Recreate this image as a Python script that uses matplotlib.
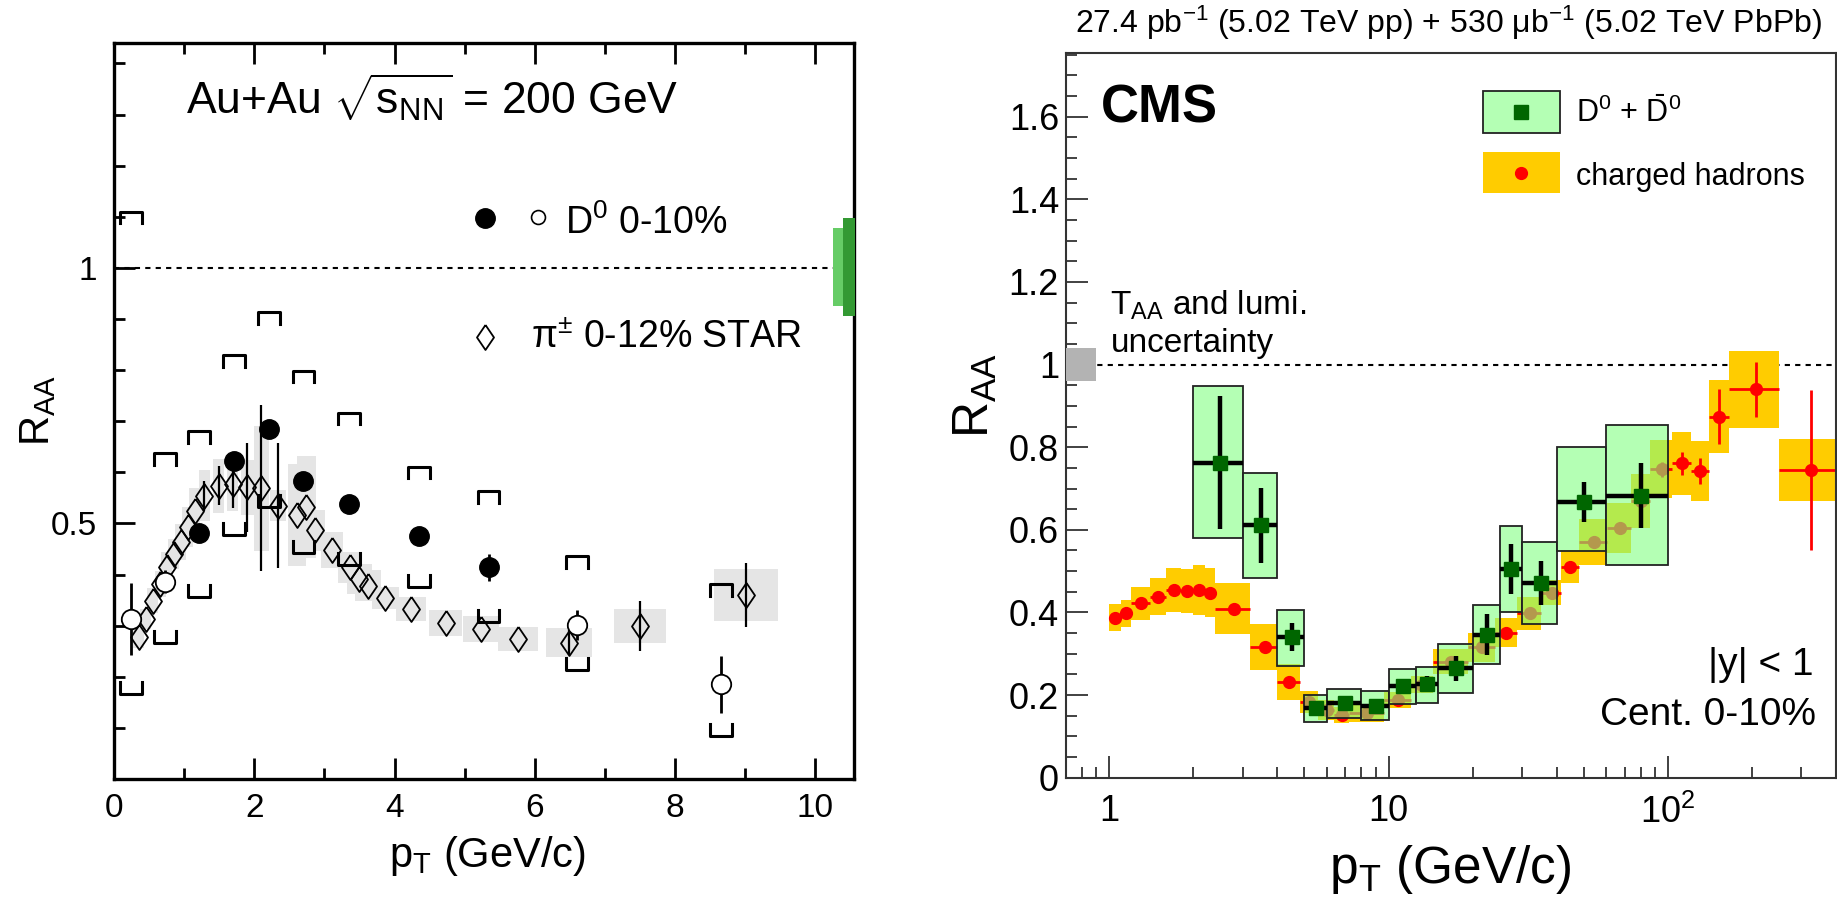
import matplotlib
matplotlib.use('Agg')
import matplotlib.pyplot as plt
import matplotlib.ticker as mticker
from matplotlib.patches import Rectangle
import numpy as np

plt.rcParams['font.family'] = 'Liberation Sans'
plt.rcParams['mathtext.fontset'] = 'custom'
plt.rcParams['mathtext.rm'] = 'Liberation Sans'
plt.rcParams['mathtext.it'] = 'Liberation Sans:italic'
plt.rcParams['mathtext.bf'] = 'Liberation Sans:bold'

# ---------------- left panel data (STAR, Au+Au 200 GeV) ----------------
# D0 0-10%, filled points
d0f_pt = [1.21, 1.71, 2.21, 2.70, 3.35, 4.35, 5.34]
d0f_raa = [0.481, 0.622, 0.684, 0.584, 0.538, 0.475, 0.414]
d0f_stat = [0.012, 0.012, 0.012, 0.012, 0.012, 0.012, 0.027]
d0f_syshi = [0.680, 0.830, 0.913, 0.799, 0.717, 0.611, 0.563]
d0f_syslo = [0.356, 0.478, 0.532, 0.442, 0.419, 0.376, 0.307]

# D0 0-10%, open points
d0o_pt = [0.24, 0.73, 6.60, 8.65]
d0o_raa = [0.313, 0.386, 0.301, 0.185]
d0o_stat = [0.070, 0.022, 0.029, 0.056]
d0o_syshi = [1.110, 0.637, 0.436, 0.382]
d0o_syslo = [0.166, 0.267, 0.213, 0.085]

# pi+- 0-12% STAR
pi_pt = [0.35, 0.45, 0.55, 0.66, 0.75, 0.85, 0.95, 1.05, 1.15, 1.29,
         1.49, 1.69, 1.90, 2.10, 2.34, 2.61, 2.74, 2.86, 3.11, 3.36,
         3.50, 3.62, 3.87, 4.23, 4.73, 5.23, 5.76, 6.49, 7.50, 9.01]
pi_raa = [0.277, 0.313, 0.349, 0.382, 0.414, 0.440, 0.464, 0.493, 0.525, 0.554,
          0.574, 0.577, 0.571, 0.569, 0.535, 0.517, 0.532, 0.487, 0.448, 0.414,
          0.391, 0.378, 0.354, 0.333, 0.305, 0.294, 0.274, 0.267, 0.300, 0.360]
pi_stat = [0.012, 0.012, 0.012, 0.012, 0.012, 0.012, 0.012, 0.012, 0.015, 0.030,
           0.038, 0.046, 0.087, 0.163, 0.122, 0.015, 0.015, 0.015, 0.015, 0.015,
           0.015, 0.015, 0.015, 0.015, 0.020, 0.020, 0.020, 0.025, 0.049, 0.062]
pi_sys = [0.020, 0.020, 0.025, 0.025, 0.030, 0.030, 0.035, 0.040, 0.045, 0.050,
          0.053, 0.053, 0.054, 0.122, 0.030, 0.100, 0.100, 0.040, 0.035, 0.030,
          0.030, 0.030, 0.021, 0.024, 0.026, 0.025, 0.024, 0.029, 0.033, 0.050]

# ---------------- right panel data (CMS, PbPb 5.02 TeV) ----------------
ch_edges = [1.0, 1.1, 1.2, 1.4, 1.6, 1.8, 2.0, 2.2, 2.4, 3.2, 4.0, 4.8, 5.6, 6.4,
            7.2, 9.6, 12.0, 14.4, 19.2, 24.0, 28.8, 35.2, 41.6, 48.0, 60.8, 73.6,
            86.4, 103.6, 120.8, 140.0, 165.0, 250.0, 400.0]
ch_raa = [0.387, 0.398, 0.422, 0.438, 0.454, 0.452, 0.454, 0.448, 0.409, 0.316,
          0.232, 0.184, 0.164, 0.152, 0.156, 0.188, 0.225, 0.281, 0.316, 0.351,
          0.398, 0.448, 0.511, 0.571, 0.604, 0.670, 0.747, 0.761, 0.743, 0.874,
          0.940, 0.745]
ch_stat = [0.008, 0.008, 0.008, 0.008, 0.008, 0.008, 0.008, 0.008, 0.008, 0.008,
           0.008, 0.008, 0.008, 0.008, 0.008, 0.008, 0.010, 0.010, 0.010, 0.010,
           0.012, 0.012, 0.012, 0.015, 0.015, 0.020, 0.018, 0.028, 0.032, 0.067,
           0.066, 0.194]
ch_sys = [0.033, 0.033, 0.040, 0.045, 0.054, 0.053, 0.060, 0.060, 0.062, 0.055,
          0.043, 0.027, 0.025, 0.020, 0.020, 0.020, 0.020, 0.030, 0.035, 0.035,
          0.040, 0.030, 0.040, 0.056, 0.060, 0.066, 0.070, 0.076, 0.072, 0.088,
          0.094, 0.076]

d0_edges = [2, 3, 4, 5, 6, 8, 10, 12.5, 15, 20, 25, 30, 40, 60, 100]
d0_raa = [0.763, 0.611, 0.340, 0.168, 0.180, 0.174, 0.222, 0.227, 0.265, 0.346,
          0.505, 0.471, 0.668, 0.683]
d0_stat = [0.160, 0.091, 0.034, 0.015, 0.015, 0.012, 0.015, 0.020, 0.030, 0.050,
           0.060, 0.054, 0.049, 0.079]
d0_syslo = [0.183, 0.127, 0.069, 0.034, 0.035, 0.034, 0.044, 0.045, 0.061, 0.071,
            0.103, 0.100, 0.120, 0.168]
d0_syshi = [0.184, 0.126, 0.066, 0.031, 0.035, 0.036, 0.040, 0.042, 0.059, 0.072,
            0.104, 0.100, 0.132, 0.171]

fig = plt.figure(figsize=(18.37, 9.07), dpi=100)

# hollow diamond like the STAR marker
diamond = [(0, 1), (0.68, 0), (0, -1), (-0.68, 0), (0, 1)]

# =============================== left panel ===============================
ax1 = fig.add_axes([114/1837, 1-779/907, 740/1837, 736/907])
ax1.set_xlim(0, 10.55)
ax1.set_ylim(0, 1.44)

for x, y, s in zip(pi_pt, pi_raa, pi_sys):
    hw = max(0.08, 0.05*x)
    ax1.add_patch(Rectangle((x-hw, y-s), 2*hw, 2*s, facecolor='#e5e5e5',
                            edgecolor='none', zorder=1))

ax1.axhline(1, color='k', ls=(0, (2.5, 2.5)), lw=1.5, zorder=2)

# only error bars that stick out of the marker are visible
big = [i for i in range(len(pi_pt)) if pi_stat[i] > 0.02]
ax1.errorbar([pi_pt[i] for i in big], [pi_raa[i] for i in big], yerr=[pi_stat[i] for i in big],
             fmt='none', ecolor='k', elinewidth=1.6, zorder=3)
ax1.plot(pi_pt, pi_raa, marker=diamond, ls='none', ms=18, mfc='none', mec='k', mew=1.3, zorder=4)

# systematic brackets for D0
bw = 0.155
leg = 0.023
for x, lo, hi in zip(d0f_pt + d0o_pt, d0f_syslo + d0o_syslo, d0f_syshi + d0o_syshi):
    ax1.plot([x-bw, x-bw, x+bw, x+bw], [hi-leg, hi, hi, hi-leg], 'k-', lw=2.2, zorder=5)
    ax1.plot([x-bw, x-bw, x+bw, x+bw], [lo+leg, lo, lo, lo+leg], 'k-', lw=2.2, zorder=5)

ax1.errorbar(d0o_pt, d0o_raa, yerr=d0o_stat, fmt='o', ms=14, mfc='white', mec='k',
             mew=1.3, ecolor='k', elinewidth=2, zorder=6)
ax1.errorbar(d0f_pt, d0f_raa, yerr=d0f_stat, fmt='o', ms=14, color='k',
             elinewidth=2, zorder=6)

# global uncertainty bands on the right edge
ax1.add_patch(Rectangle((10.25, 0.925), 0.15, 0.153, facecolor='#66cc66', edgecolor='none', zorder=3))
ax1.add_patch(Rectangle((10.40, 0.905), 0.16, 0.192, facecolor='#339933', edgecolor='none',
                        zorder=3, clip_on=False))

# legend and label
ax1.text(1.02, 1.30, r'Au+Au $\sqrt{\mathrm{s}_{\mathrm{NN}}}$ = 200 GeV', fontsize=32)
ax1.plot([5.29], [1.097], 'o', ms=14, color='k')
ax1.plot([6.04], [1.10], 'o', ms=10, mfc='white', mec='k', mew=1.2)
ax1.text(6.43, 1.088, r'D$^{0}$ 0-10%', fontsize=27, va='center')
ax1.plot([5.29], [0.865], marker=diamond, ms=18, mfc='none', mec='k', mew=1.3)
ax1.text(5.95, 0.863, r'π$^{\pm}$ 0-12% STAR', fontsize=27, va='center')

ax1.set_xticks([0, 2, 4, 6, 8, 10])
ax1.set_xticks([1, 3, 5, 7, 9], minor=True)
ax1.set_yticks([0.5, 1.0])
ax1.set_yticklabels(['0.5', '1'])
ax1.set_yticks([0.1, 0.2, 0.3, 0.4, 0.6, 0.7, 0.8, 0.9, 1.1, 1.2, 1.3, 1.4], minor=True)
ax1.tick_params(which='both', direction='in', top=True, right=False, width=2, labelsize=24)
ax1.tick_params(which='major', length=15)
ax1.tick_params(which='minor', length=8)
ax1.tick_params(axis='x', pad=10)
ax1.tick_params(axis='y', pad=12)
for sp in ax1.spines.values():
    sp.set_linewidth(2.4)

fig.text(38/1837, 1-410/907, r'R$_{\mathrm{AA}}$', fontsize=30, rotation=90, ha='center', va='center')
fig.text(487/1837, 1-867/907, r'p$_{\mathrm{T}}$ (GeV/c)', fontsize=30, ha='center', va='baseline')

# =============================== right panel ===============================
ax2 = fig.add_axes([1066/1837, 1-777.7/907, 770/1837, 725/907])
ax2.set_xscale('log')
ax2.set_xlim(0.7, 400)
ax2.set_ylim(0, 1.755)

ch_edges = np.array(ch_edges)
ch_lo = ch_edges[:-1]
ch_hi = ch_edges[1:]
ch_pt = (ch_lo + ch_hi) / 2
for lo, hi, y, s in zip(ch_lo, ch_hi, ch_raa, ch_sys):
    ax2.add_patch(Rectangle((lo, y-s), hi-lo, 2*s, facecolor='#ffcc00', edgecolor='none', zorder=1))
ax2.errorbar(ch_pt, ch_raa, yerr=ch_stat, xerr=[ch_pt-ch_lo, ch_hi-ch_pt], fmt='o', ms=8.5,
             color='red', elinewidth=2, zorder=2)

ax2.axhline(1, color='k', ls=(0, (2.5, 2.5)), lw=1.5, zorder=0)

d0_edges = np.array(d0_edges, dtype=float)
d0_lo = d0_edges[:-1]
d0_hi = d0_edges[1:]
d0_pt = (d0_lo + d0_hi) / 2
for lo, hi, y, sl, sh in zip(d0_lo, d0_hi, d0_raa, d0_syslo, d0_syshi):
    ax2.add_patch(Rectangle((lo, y-sl), hi-lo, sl+sh, facecolor=(0.51, 1.0, 0.51, 0.6),
                            edgecolor='#222222', lw=1.3, zorder=3))
ax2.errorbar(d0_pt, d0_raa, yerr=d0_stat, xerr=[d0_pt-d0_lo, d0_hi-d0_pt], fmt='s', ms=10,
             mfc='#006600', mec='#006600', ecolor='k', elinewidth=3.2, zorder=4)

# normalisation uncertainty box
ax2.add_patch(Rectangle((0.7, 0.961), 0.2, 0.078, facecolor='#b3b3b3', edgecolor='none', zorder=5))
ax2.text(1.01, 1.12, r'T$_{\mathrm{AA}}$ and lumi.', fontsize=24)
ax2.text(1.01, 1.031, 'uncertainty', fontsize=24)

ax2.text(0.045, 0.958, 'CMS', fontsize=38, fontweight='bold', transform=ax2.transAxes, va='top')

# legend drawn by hand
ax2.add_patch(Rectangle((0.541, 0.8888), 0.1006, 0.0588, transform=ax2.transAxes,
                        facecolor='#b4ffb4', edgecolor='#222222', lw=1.3, zorder=6))
ax2.plot([0.5914], [0.918], 's', ms=10, color='#006600', transform=ax2.transAxes, zorder=7)
ax2.text(0.6623, 0.9164, r'D$^{0}$ + $\bar{\mathrm{D}}^{0}$', fontsize=22, va='center',
         transform=ax2.transAxes)
ax2.add_patch(Rectangle((0.541, 0.8059), 0.1006, 0.0567, transform=ax2.transAxes,
                        facecolor='#ffcc00', edgecolor='none', zorder=6))
ax2.plot([0.5914], [0.834], 'o', ms=8.5, color='red', transform=ax2.transAxes, zorder=7)
ax2.text(0.6623, 0.829, 'charged hadrons', fontsize=22, va='center', transform=ax2.transAxes)

ax2.text(0.971, 0.1417, '|y| < 1', fontsize=28, ha='right', va='baseline', transform=ax2.transAxes)
ax2.text(0.974, 0.0728, 'Cent. 0-10%', fontsize=28, ha='right', va='baseline', transform=ax2.transAxes)

ax2.xaxis.set_major_locator(mticker.FixedLocator([1, 10, 100]))
ax2.xaxis.set_major_formatter(mticker.FixedFormatter(['1', '10', r'10$^{2}$']))
ax2.xaxis.set_minor_locator(mticker.LogLocator(base=10, subs=np.arange(2, 10)))
ax2.xaxis.set_minor_formatter(mticker.NullFormatter())
ax2.set_yticks(np.arange(0, 1.61, 0.2))
ax2.set_yticklabels(['0', '0.2', '0.4', '0.6', '0.8', '1', '1.2', '1.4', '1.6'])
ax2.yaxis.set_minor_locator(mticker.MultipleLocator(0.05))
ax2.tick_params(which='both', direction='in', top=False, right=False, width=1.3,
                color='#333333', labelsize=26)
ax2.tick_params(which='major', length=16)
ax2.tick_params(which='minor', length=8)
ax2.tick_params(axis='x', pad=12)
ax2.tick_params(axis='y', pad=5)
for sp in ax2.spines.values():
    sp.set_linewidth(1.5)
    sp.set_color('#333333')

fig.text(975/1837, 1-395/907, r'R$_{\mathrm{AA}}$', fontsize=36, rotation=90, ha='center', va='center')
fig.text(1450/1837, 1-883/907, r'p$_{\mathrm{T}}$ (GeV/c)', fontsize=37, ha='center', va='baseline')
fig.text(1822/1837, 1-33/907, '27.4 pb$^{-1}$ (5.02 TeV pp) + 530 μb$^{-1}$ (5.02 TeV PbPb)',
         fontsize=23, ha='right', va='baseline')

fig.savefig('out.png', dpi=100)
